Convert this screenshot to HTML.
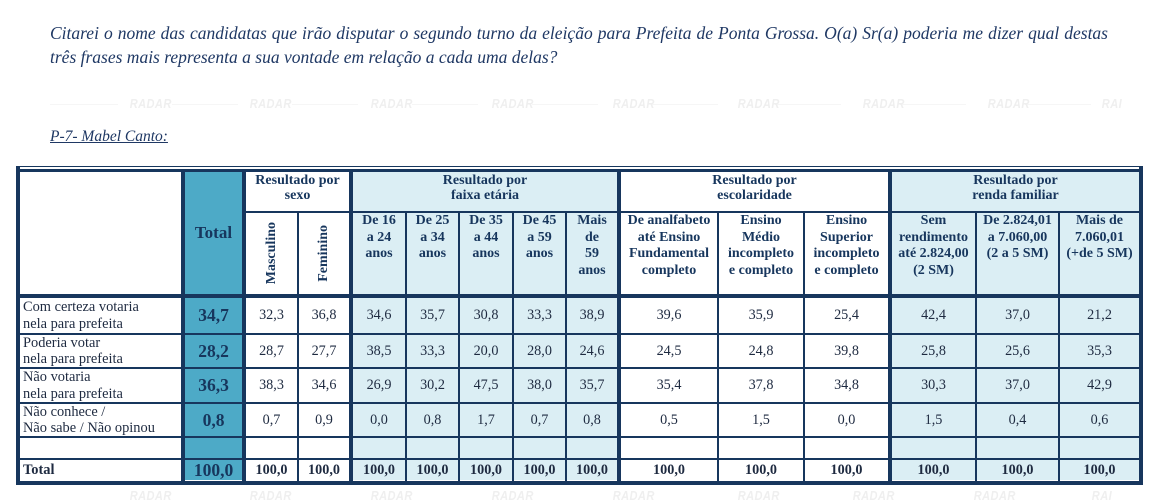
<!DOCTYPE html>
<html><head><meta charset="utf-8">
<style>
*{margin:0;padding:0;box-sizing:border-box}
body{width:1163px;height:499px;background:#fff;overflow:hidden;font-family:"Liberation Serif",serif;color:#17365D}
#pg{position:relative;width:1163px;height:499px}
.a{position:absolute}
.ln{position:absolute;background:#17365D}
.wm{position:absolute;font-family:"Liberation Sans",sans-serif;font-weight:bold;font-style:italic;font-size:13px;color:#efefef;transform:scaleX(0.85);letter-spacing:0.5px}
.wl{position:absolute;height:1px;background:#f6f6f6}
.q{position:absolute;left:50px;width:1058px;font-style:italic;font-size:17.5px;color:#1F3864;text-align:justify;text-align-last:justify;line-height:20px;white-space:nowrap}
.row{position:absolute;left:0;width:1163px}
.c{position:absolute;top:0;height:100%;display:flex;align-items:center;justify-content:center;text-align:center;font-size:14.2px;color:#1e2a40}
.lb{position:absolute;left:23px;top:0;height:100%;display:flex;align-items:center;font-size:14.4px;line-height:16.5px;color:#1e2a40}
.t{font-weight:bold;font-size:17.5px;color:#17365D}
.b{font-weight:bold;color:#1e2a40}
.k0{left:185px;width:57px}
.k1{left:246px;width:51px}
.k2{left:299px;width:50px}
.k3{left:353px;width:52px}
.k4{left:407px;width:51px}
.k5{left:460px;width:52px}
.k6{left:514px;width:51px}
.k7{left:567px;width:50px}
.k8{left:621px;width:96px}
.k9{left:719px;width:84px}
.k10{left:805px;width:83px}
.k11{left:892px;width:83px}
.k12{left:977px;width:81px}
.k13{left:1060px;width:79px}
.gh{position:absolute;top:173px;font-weight:bold;font-size:14px;line-height:15px;text-align:center;color:#17365D}
.sh{position:absolute;top:213px;font-weight:bold;font-size:14px;line-height:16.7px;text-align:center;color:#17365D;white-space:nowrap}
.vt{position:absolute;top:213px;height:81px;display:flex;align-items:center;justify-content:center}
.vt span{writing-mode:vertical-rl;transform:rotate(180deg);font-weight:bold;font-size:14px;color:#17365D}
</style></head><body><div id="pg">

<!-- watermarks -->
<div class="wl" style="left:50px;top:104px;width:68px"></div>
<div class="wl" style="left:172px;top:104px;width:66px"></div>
<div class="wl" style="left:292px;top:104px;width:66px"></div>
<div class="wl" style="left:412px;top:104px;width:66px"></div>
<div class="wl" style="left:532px;top:104px;width:66px"></div>
<div class="wl" style="left:652px;top:104px;width:66px"></div>
<div class="wl" style="left:775px;top:104px;width:66px"></div>
<div class="wl" style="left:900px;top:104px;width:66px"></div>
<div class="wl" style="left:1025px;top:104px;width:66px"></div>
<div class="wm" style="left:126px;top:96px">RADAR</div>
<div class="wm" style="left:246px;top:96px">RADAR</div>
<div class="wm" style="left:367px;top:96px">RADAR</div>
<div class="wm" style="left:488px;top:96px">RADAR</div>
<div class="wm" style="left:609px;top:96px">RADAR</div>
<div class="wm" style="left:734px;top:96px">RADAR</div>
<div class="wm" style="left:859px;top:96px">RADAR</div>
<div class="wm" style="left:984px;top:96px">RADAR</div>
<div class="wm" style="left:1100px;top:96px">RAI</div>
<div class="wm" style="left:126px;top:488px">RADAR</div>
<div class="wm" style="left:246px;top:488px">RADAR</div>
<div class="wm" style="left:367px;top:488px">RADAR</div>
<div class="wm" style="left:488px;top:488px">RADAR</div>
<div class="wm" style="left:609px;top:488px">RADAR</div>
<div class="wm" style="left:734px;top:488px">RADAR</div>
<div class="wm" style="left:849px;top:488px">RADAR</div>
<div class="wm" style="left:970px;top:488px">RADAR</div>
<div class="wm" style="left:1090px;top:488px">RAI</div>

<!-- question -->
<div class="q" style="top:23px">Citarei o nome das candidatas que irão disputar o segundo turno da eleição para Prefeita de Ponta Grossa. O(a) Sr(a) poderia me dizer qual destas</div>
<div class="a" style="left:50px;top:47px;font-style:italic;font-size:17.5px;line-height:20px;color:#1F3864;white-space:nowrap">três frases mais representa a sua vontade em relação a cada uma delas?</div>
<div class="a" style="left:50px;top:127px;font-style:italic;font-size:15.5px;line-height:20px;color:#1F3864;text-decoration:underline;white-space:nowrap">P-7- Mabel Canto:</div>

<!-- fills -->
<div class="a" style="left:185px;top:172px;width:57px;height:308px;background:#4DAAC7"></div>
<div class="a" style="left:353px;top:172px;width:264px;height:308px;background:#DBEEF4"></div>
<div class="a" style="left:892px;top:172px;width:247px;height:308px;background:#DBEEF4"></div>

<!-- header -->
<div class="a" style="left:185px;top:172px;width:57px;height:122px;display:flex;align-items:center;justify-content:center;font-weight:bold;font-size:17px;color:#17365D">Total</div>
<div class="gh" style="left:246px;width:103px">Resultado por<br>sexo</div>
<div class="gh" style="left:353px;width:264px">Resultado por<br>faixa etária</div>
<div class="gh" style="left:621px;width:267px">Resultado por<br>escolaridade</div>
<div class="gh" style="left:892px;width:247px">Resultado por<br>renda familiar</div>

<div class="vt k1"><span>Masculino</span></div>
<div class="vt k2"><span>Feminino</span></div>
<div class="sh k3">De 16<br>a 24<br>anos</div>
<div class="sh k4">De 25<br>a 34<br>anos</div>
<div class="sh k5">De 35<br>a 44<br>anos</div>
<div class="sh k6">De 45<br>a 59<br>anos</div>
<div class="sh k7">Mais<br>de<br>59<br>anos</div>
<div class="sh k8">De analfabeto<br>até Ensino<br>Fundamental<br>completo</div>
<div class="sh k9">Ensino<br>Médio<br>incompleto<br>e completo</div>
<div class="sh k10">Ensino<br>Superior<br>incompleto<br>e completo</div>
<div class="sh k11">Sem<br>rendimento<br>até 2.824,00<br>(2 SM)</div>
<div class="sh k12">De 2.824,01<br>a 7.060,00<br>(2 a 5 SM)</div>
<div class="sh k13">Mais de<br>7.060,01<br>(+de 5 SM)</div>

<!-- rows -->
<div class="row" style="top:298px;height:35px">
<div class="lb">Com certeza votaria<br>nela para prefeita</div>
<div class="c k0 t">34,7</div><div class="c k1">32,3</div><div class="c k2">36,8</div>
<div class="c k3">34,6</div><div class="c k4">35,7</div><div class="c k5">30,8</div><div class="c k6">33,3</div><div class="c k7">38,9</div>
<div class="c k8">39,6</div><div class="c k9">35,9</div><div class="c k10">25,4</div>
<div class="c k11">42,4</div><div class="c k12">37,0</div><div class="c k13">21,2</div>
</div>
<div class="row" style="top:335px;height:32px">
<div class="lb">Poderia votar<br>nela para prefeita</div>
<div class="c k0 t">28,2</div><div class="c k1">28,7</div><div class="c k2">27,7</div>
<div class="c k3">38,5</div><div class="c k4">33,3</div><div class="c k5">20,0</div><div class="c k6">28,0</div><div class="c k7">24,6</div>
<div class="c k8">24,5</div><div class="c k9">24,8</div><div class="c k10">39,8</div>
<div class="c k11">25,8</div><div class="c k12">25,6</div><div class="c k13">35,3</div>
</div>
<div class="row" style="top:369px;height:33px">
<div class="lb">Não votaria<br>nela para prefeita</div>
<div class="c k0 t">36,3</div><div class="c k1">38,3</div><div class="c k2">34,6</div>
<div class="c k3">26,9</div><div class="c k4">30,2</div><div class="c k5">47,5</div><div class="c k6">38,0</div><div class="c k7">35,7</div>
<div class="c k8">35,4</div><div class="c k9">37,8</div><div class="c k10">34,8</div>
<div class="c k11">30,3</div><div class="c k12">37,0</div><div class="c k13">42,9</div>
</div>
<div class="row" style="top:404px;height:32px">
<div class="lb">Não conhece /<br>Não sabe / Não opinou</div>
<div class="c k0 t">0,8</div><div class="c k1">0,7</div><div class="c k2">0,9</div>
<div class="c k3">0,0</div><div class="c k4">0,8</div><div class="c k5">1,7</div><div class="c k6">0,7</div><div class="c k7">0,8</div>
<div class="c k8">0,5</div><div class="c k9">1,5</div><div class="c k10">0,0</div>
<div class="c k11">1,5</div><div class="c k12">0,4</div><div class="c k13">0,6</div>
</div>
<div class="row" style="top:460px;height:21px">
<div class="lb" style="font-weight:bold">Total</div>
<div class="c k0 t">100,0</div><div class="c k1 b">100,0</div><div class="c k2 b">100,0</div>
<div class="c k3 b">100,0</div><div class="c k4 b">100,0</div><div class="c k5 b">100,0</div><div class="c k6 b">100,0</div><div class="c k7 b">100,0</div>
<div class="c k8 b">100,0</div><div class="c k9 b">100,0</div><div class="c k10 b">100,0</div>
<div class="c k11 b">100,0</div><div class="c k12 b">100,0</div><div class="c k13 b">100,0</div>
</div>

<!-- lines horizontal -->
<div class="ln" style="left:16px;top:166px;width:1127px;height:1px"></div>
<div class="ln" style="left:16px;top:169px;width:1127px;height:3px"></div>
<div class="ln" style="left:246px;top:211px;width:893px;height:2px"></div>
<div class="ln" style="left:16px;top:294px;width:1127px;height:4px"></div>
<div class="ln" style="left:16px;top:333px;width:1127px;height:2px"></div>
<div class="ln" style="left:16px;top:367px;width:1127px;height:2px"></div>
<div class="ln" style="left:16px;top:402px;width:1127px;height:2px"></div>
<div class="ln" style="left:16px;top:436px;width:1127px;height:2px"></div>
<div class="ln" style="left:16px;top:458px;width:1127px;height:2px"></div>
<div class="ln" style="left:16px;top:481px;width:1127px;height:4px"></div>
<!-- lines vertical -->
<div class="ln" style="left:16px;top:166px;width:4px;height:319px"></div>
<div class="ln" style="left:181px;top:169px;width:4px;height:316px"></div>
<div class="ln" style="left:242px;top:169px;width:4px;height:316px"></div>
<div class="ln" style="left:297px;top:211px;width:2px;height:274px"></div>
<div class="ln" style="left:349px;top:169px;width:4px;height:316px"></div>
<div class="ln" style="left:405px;top:211px;width:2px;height:274px"></div>
<div class="ln" style="left:458px;top:211px;width:2px;height:274px"></div>
<div class="ln" style="left:512px;top:211px;width:2px;height:274px"></div>
<div class="ln" style="left:565px;top:211px;width:2px;height:274px"></div>
<div class="ln" style="left:617px;top:169px;width:4px;height:316px"></div>
<div class="ln" style="left:717px;top:211px;width:2px;height:274px"></div>
<div class="ln" style="left:803px;top:211px;width:2px;height:274px"></div>
<div class="ln" style="left:888px;top:169px;width:4px;height:316px"></div>
<div class="ln" style="left:975px;top:211px;width:2px;height:274px"></div>
<div class="ln" style="left:1058px;top:211px;width:2px;height:274px"></div>
<div class="ln" style="left:1139px;top:166px;width:4px;height:319px"></div>

</div></body></html>
